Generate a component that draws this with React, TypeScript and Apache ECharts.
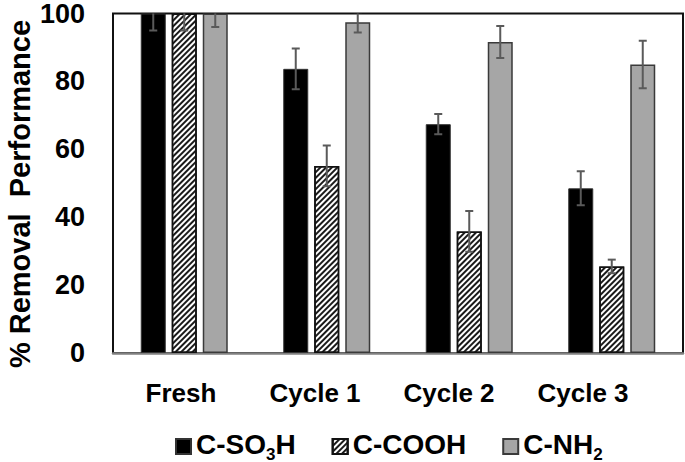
import React, { useEffect, useRef } from "react";
import * as echarts from "echarts";

const categories = ["Fresh", "Cycle 1", "Cycle 2", "Cycle 3"];
const seriesNames = ["C-SO3H", "C-COOH", "C-NH2"];
const so3hValues = [100, 83.7, 67.4, 48.5];
const so3hErrors = [5, 6, 3, 5];
const coohValues = [100, 55.1, 35.8, 25.5];
const coohErrors = [5, 6, 6, 2];
const nh2Values = [100, 97.4, 91.6, 85.0];
const nh2Errors = [4, 3, 4.7, 7];
const yTicks = { min: 0, max: 100, interval: 20 };

const FONT = "'Liberation Sans', Arial, sans-serif";
const BAR_W = 25;
const BAR_GAP = 0.24;

export default function App() {
  const ref = useRef<HTMLDivElement>(null);
  useEffect(() => {
    if (!ref.current) return;
    const chart = echarts.init(ref.current, undefined, { renderer: "svg" });

    const makeErr = (idx: number, vals: number[], errs: number[]) => ({
      type: "custom",
      name: seriesNames[idx] + " err",
      xAxisIndex: 0,
      yAxisIndex: 0,
      z: 5,
      clip: true,
      silent: true,
      data: vals.map((v, i) => [i, v, errs[i]]),
      renderItem: (params: any, api: any) => {
        const cat = api.value(0);
        const v = api.value(1);
        const e = api.value(2);
        const off = (idx - 1) * BAR_W * (1 + BAR_GAP);
        const hi = api.coord([cat, v + e]);
        const lo = api.coord([cat, v - e]);
        const x = hi[0] + off;
        const st = { stroke: "#5a5a5a", lineWidth: 2 };
        const cap = 4;
        return {
          type: "group",
          children: [
            { type: "line", shape: { x1: x, y1: hi[1], x2: x, y2: lo[1] }, style: st },
            { type: "line", shape: { x1: x - cap, y1: hi[1], x2: x + cap, y2: hi[1] }, style: st },
            { type: "line", shape: { x1: x - cap, y1: lo[1], x2: x + cap, y2: lo[1] }, style: st },
          ],
        };
      },
    });

    const legendText: Record<string, string> = {
      "C-SO3H": "{n|C-SO}{s|3}{n|H}",
      "C-COOH": "{n|C-COOH}",
      "C-NH2": "{n|C-NH}{s|2}",
    };

    chart.setOption({
      animation: false,
      backgroundColor: "#fff",
      textStyle: { fontFamily: FONT },
      grid: [
        { left: 113, right: 2, top: 12, bottom: 109, show: true, borderColor: "#111", borderWidth: 2 },
        { left: 114, width: 536, top: 12, bottom: 109, show: false },
      ],
      xAxis: [
        {
          type: "category",
          gridIndex: 0,
          data: categories,
          axisLine: { show: true, lineStyle: { color: "#808080", width: 2.5 } },
          axisTick: { show: false },
          axisLabel: { show: false },
        },
        {
          type: "category",
          gridIndex: 1,
          data: categories,
          axisLine: { show: false },
          axisTick: { show: false },
          axisLabel: {
            show: true,
            color: "#000",
            fontSize: 26,
            fontWeight: "bold",
            fontFamily: FONT,
            margin: 27,
          },
        },
      ],
      yAxis: [
        {
          type: "value",
          gridIndex: 0,
          min: yTicks.min,
          max: yTicks.max,
          interval: yTicks.interval,
          axisLine: { show: false },
          axisTick: { show: false },
          splitLine: { show: false },
          axisLabel: {
            color: "#000",
            fontSize: 27,
            fontWeight: "bold",
            fontFamily: FONT,
            margin: 28,
          },
        },
        { type: "value", gridIndex: 1, min: 0, max: 100, show: false },
      ],
      legend: {
        left: 170,
        top: 425,
        itemWidth: 15,
        itemHeight: 15,
        itemGap: 36,
        icon: "rect",
        data: seriesNames,
        formatter: (name: string) => legendText[name] || name,
        textStyle: {
          color: "#000",
          fontFamily: FONT,
          rich: {
            n: { fontSize: 28, fontWeight: "bold", fontFamily: FONT, color: "#000", verticalAlign: "bottom", padding: [0, 0, 5, 0] },
            s: { fontSize: 17, fontWeight: "bold", fontFamily: FONT, color: "#000", verticalAlign: "bottom" },
          },
        },
      },
      graphic: [
        {
          type: "text",
          x: 20,
          y: 194,
          rotation: Math.PI / 2,
          style: {
            text: "% Removal  Performance",
            font: `bold 29px ${FONT}`,
            fill: "#000",
            textAlign: "center",
            textVerticalAlign: "middle",
          },
        },
      ],
      series: [
        {
          name: "C-SO3H",
          type: "bar",
          barWidth: BAR_W,
          barGap: `${BAR_GAP * 100}%`,
          data: so3hValues,
          itemStyle: { color: "#000", borderColor: "#333", borderWidth: 1 },
        },
        {
          name: "C-COOH",
          type: "bar",
          barWidth: BAR_W,
          barGap: `${BAR_GAP * 100}%`,
          data: coohValues,
          itemStyle: {
            color: "#fff",
            borderColor: "#111",
            borderWidth: 1.5,
            decal: {
              symbol: "rect",
              symbolSize: 1,
              color: "#1a1a1a",
              dashArrayX: [1, 0],
              dashArrayY: [1.4, 1.4],
              rotation: -Math.PI / 4,
            },
          },
        },
        {
          name: "C-NH2",
          type: "bar",
          barWidth: BAR_W,
          barGap: `${BAR_GAP * 100}%`,
          data: nh2Values,
          itemStyle: { color: "#a6a6a6", borderColor: "#3a3a3a", borderWidth: 1.5 },
        },
        makeErr(0, so3hValues, so3hErrors),
        makeErr(1, coohValues, coohErrors),
        makeErr(2, nh2Values, nh2Errors),
      ],
    });
    return () => chart.dispose();
  }, []);
  return (
    <div
      ref={ref}
      style={{ position: "absolute", left: 0, top: 0, width: 685, height: 462 }}
    />
  );
}
